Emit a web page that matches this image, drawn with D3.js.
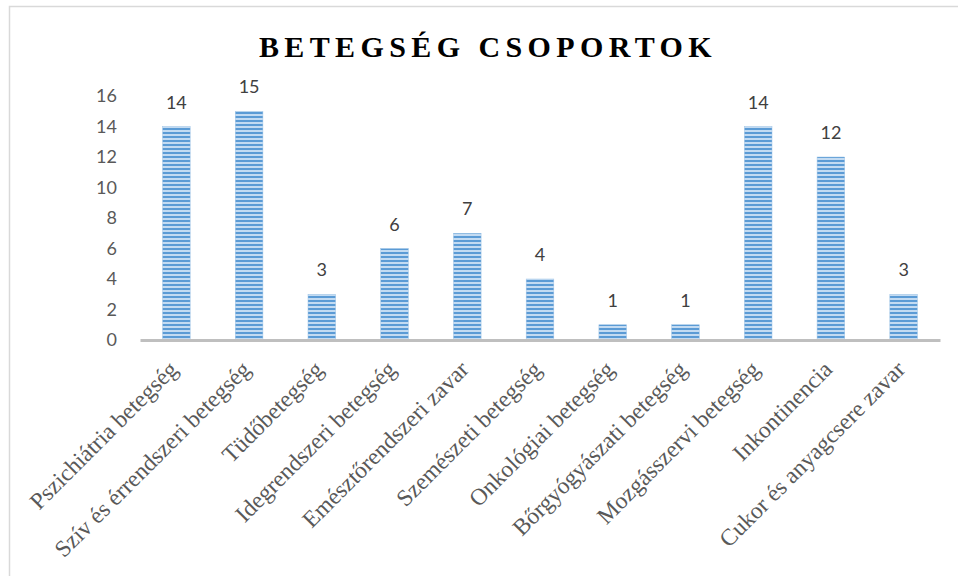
<!DOCTYPE html>
<html>
<head>
<meta charset="utf-8">
<script src="https://cdn.jsdelivr.net/npm/d3@7"></script>
<style>
  body { margin: 0; background: #fff; }
</style>
</head>
<body>
<script>
// betegség csoportok - oszlopdiagram
let categories = ["Pszichiátria betegség", "Szív és érrendszeri betegség", "Tüdőbetegség",
    "Idegrendszeri betegség", "Emésztőrendszeri zavar", "Szemészeti betegség",
    "Onkológiai betegség", "Bőrgyógyászati betegség", "Mozgásszervi betegség",
    "Inkontinencia", "Cukor és anyagcsere zavar"];
let values = [14, 15, 3, 6, 7, 4, 1, 1, 14, 12, 3];
let yTicks = [0, 2, 4, 6, 8, 10, 12, 14, 16];

let w = 958;
let h = 576;
let plotLeft = 140, plotRight = 940, plotTop = 96, plotBottom = 340;

let svg = d3.select('body').append('svg')
    .attr('width', w)
    .attr('height', h);

// frame
svg.append('rect')
    .attr('x', 9.5).attr('y', 6.5)
    .attr('width', w).attr('height', h)
    .attr('fill', 'none')
    .attr('stroke', '#d9d9d9')
    .attr('stroke-width', 1.5);

// stripe pattern
let pat = svg.append('defs').append('pattern')
    .attr('id', 'stripes')
    .attr('patternUnits', 'userSpaceOnUse')
    .attr('width', 8).attr('height', 4);
pat.append('rect').attr('width', 8).attr('height', 4).attr('fill', '#c3dbf2');
pat.append('rect').attr('width', 8).attr('height', 2).attr('fill', '#5b9bd5');

let x = d3.scaleBand().domain(categories).range([plotLeft, plotRight]).paddingInner(0.62).paddingOuter(0.31);
let y = d3.scaleLinear().domain([0, 16]).range([plotBottom, plotTop]);

// title
svg.append('text')
    .text('BETEGSÉG CSOPORTOK')
    .attr('x', 488).attr('y', 57)
    .attr('text-anchor', 'middle')
    .attr('font-family', 'Liberation Serif, serif')
    .attr('font-weight', 'bold')
    .attr('font-size', 30)
    .attr('letter-spacing', 5.4)
    .attr('fill', '#000');

// y axis labels only
let yAxis = d3.axisLeft(y).tickValues(yTicks).tickSize(0).tickPadding(0);
let yg = svg.append('g').attr('transform', 'translate(117,0)').call(yAxis);
yg.select('.domain').remove();
yg.selectAll('text')
    .attr('font-family', 'Lato, sans-serif')
    .attr('font-size', 18)
    .attr('fill', '#595959');

// bars
svg.selectAll('rect.bar')
    .data(values)
    .enter()
    .append('rect')
    .attr('class', 'bar')
    .attr('x', (d, i) => x(categories[i]))
    .attr('y', d => y(d))
    .attr('width', x.bandwidth())
    .attr('height', d => plotBottom - y(d))
    .attr('fill', 'url(#stripes)')
    .attr('stroke', '#9dc3e6')
    .attr('stroke-width', 0.5);

// value labels
svg.selectAll('text.val')
    .data(values)
    .enter()
    .append('text')
    .attr('class', 'val')
    .text(d => d)
    .attr('x', (d, i) => x(categories[i]) + x.bandwidth() / 2)
    .attr('y', d => y(d) - 18)
    .attr('text-anchor', 'middle')
    .attr('font-family', 'Lato, sans-serif')
    .attr('font-size', 18)
    .attr('fill', '#404040');

// x axis
let xAxis = d3.axisBottom(x).tickSize(0).tickPadding(0);
let xg = svg.append('g').attr('transform', 'translate(0,' + plotBottom + ')').call(xAxis);
xg.select('.domain')
    .attr('stroke', '#bfbfbf')
    .attr('stroke-width', 3);
xg.selectAll('text')
    .attr('font-family', 'Liberation Serif, serif')
    .attr('font-size', 23.5)
    .attr('fill', '#595959')
    .attr('text-anchor', 'end')
    .attr('dy', '0.35em')
    .attr('transform', 'translate(-3,25) rotate(-45)');
</script>
</body>
</html>
